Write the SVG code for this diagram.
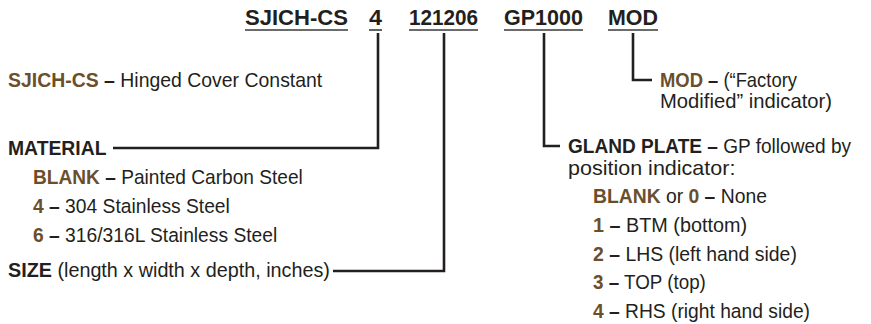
<svg xmlns="http://www.w3.org/2000/svg" width="871" height="324" viewBox="0 0 871 324">
<style>
text{font-family:"Liberation Sans",Arial,sans-serif;fill:#231f20}
.h{font-size:21.5px;font-weight:bold}
.t{font-size:20.5px}
.b{font-weight:bold}
.c{fill:#6b4f2b;font-weight:bold}
.ul{stroke:#3a3a3a;stroke-width:1.6}
.conn{fill:none;stroke:#231f20;stroke-width:2.6}
</style>
<rect width="871" height="324" fill="#fff"/>
<g id="header">
<text class="h" x="245" y="25" textLength="103" lengthAdjust="spacingAndGlyphs">SJICH-CS</text>
<text class="h" x="369" y="25" textLength="13" lengthAdjust="spacingAndGlyphs">4</text>
<text class="h" x="409" y="25" textLength="69" lengthAdjust="spacingAndGlyphs">121206</text>
<text class="h" x="504" y="25" textLength="79" lengthAdjust="spacingAndGlyphs">GP1000</text>
<text class="h" x="608" y="25" textLength="50" lengthAdjust="spacingAndGlyphs">MOD</text>
<line class="ul" x1="245" y1="30" x2="348" y2="30"/>
<line class="ul" x1="369" y1="30" x2="382" y2="30"/>
<line class="ul" x1="409" y1="30" x2="478" y2="30"/>
<line class="ul" x1="504" y1="30" x2="583" y2="30"/>
<line class="ul" x1="608" y1="30" x2="658" y2="30"/>
</g>
<g id="series">
<text class="t" transform="translate(8,87) scale(0.948,1)"><tspan class="c">SJICH-CS</tspan><tspan class="b"> –</tspan> Hinged Cover Constant</text>
</g>
<g id="material">
<text class="t b" transform="translate(8,155) scale(0.944,1)">MATERIAL</text>
<text class="t" transform="translate(33,184) scale(0.933,1)"><tspan class="c">BLANK</tspan><tspan class="b"> –</tspan> Painted Carbon Steel</text>
<text class="t" transform="translate(33,213) scale(0.939,1)"><tspan class="c">4</tspan><tspan class="b"> –</tspan> 304 Stainless Steel</text>
<text class="t" transform="translate(33,242) scale(0.939,1)"><tspan class="c">6</tspan><tspan class="b"> –</tspan> 316/316L Stainless Steel</text>
</g>
<g id="size">
<text class="t" transform="translate(8,277) scale(0.965,1)"><tspan class="b">SIZE</tspan> (length x width x depth, inches)</text>
</g>
<g id="mod">
<text class="t" transform="translate(660,87) scale(0.898,1)"><tspan class="c">MOD</tspan><tspan class="b"> –</tspan> (“Factory</text>
<text class="t" transform="translate(660,108) scale(0.987,1)">Modified” indicator)</text>
</g>
<g id="gland-plate">
<text class="t" transform="translate(568,153) scale(0.93,1)"><tspan class="b">GLAND PLATE –</tspan> GP followed by</text>
<text class="t" transform="translate(568,175) scale(1.05,1)">position indicator:</text>
<text class="t" transform="translate(593,203) scale(0.943,1)"><tspan class="c">BLANK</tspan> or <tspan class="c">0</tspan><tspan class="b"> –</tspan> None</text>
<text class="t" transform="translate(593,232) scale(0.966,1)"><tspan class="c">1</tspan><tspan class="b"> –</tspan> BTM (bottom)</text>
<text class="t" transform="translate(593,261) scale(0.947,1)"><tspan class="c">2</tspan><tspan class="b"> –</tspan> LHS (left hand side)</text>
<text class="t" transform="translate(593,289) scale(0.918,1)"><tspan class="c">3</tspan><tspan class="b"> –</tspan> TOP (top)</text>
<text class="t" transform="translate(593,318) scale(0.938,1)"><tspan class="c">4</tspan><tspan class="b"> –</tspan> RHS (right hand side)</text>
</g>
<g id="connectors">
<polyline class="conn" points="378,33 378,148 113,148"/>
<polyline class="conn" points="444,33 444,271 333,271"/>
<polyline class="conn" points="544,33 544,146 560,146"/>
<polyline class="conn" points="633,33 633,80 652,80"/>
</g>
</svg>
